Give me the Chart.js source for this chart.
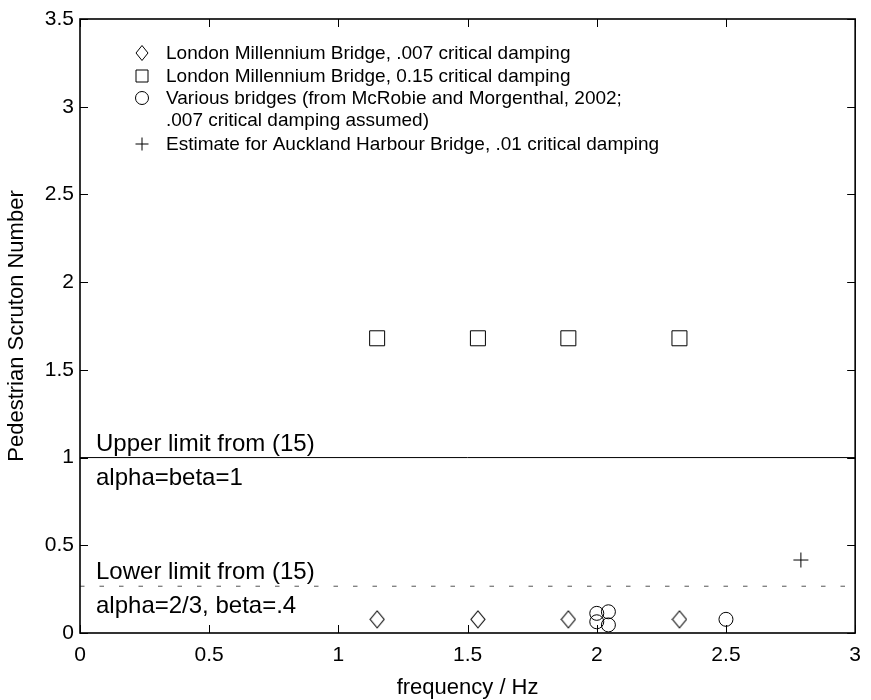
<!DOCTYPE html>
<html>
<head>
<meta charset="utf-8">
<script src="https://cdn.jsdelivr.net/npm/chart.js@4.4.0/dist/chart.umd.min.js"></script>
<style>
html,body{margin:0;padding:0;background:#fff;}
#wrap{width:871px;height:700px;}
</style>
</head>
<body>
<div id="wrap"><canvas id="c" width="871" height="700"></canvas></div>
<script>
// ---- data ----
const lmbFreq = [1.15, 1.54, 1.89, 2.32];
const lmbLowDamping = [0.078, 0.078, 0.078, 0.078];
const lmbHighDamping = [1.68, 1.68, 1.68, 1.68];
const variousFreq = [2.0, 2.0, 2.045, 2.045, 2.5];
const variousValues = [0.112, 0.064, 0.121, 0.046, 0.078];
const aucklandFreq = [2.79];
const aucklandValues = [0.416];
const upperLimit = 1;
const lowerLimit = 2/3 * 0.4;
const xTicks = [0, 0.5, 1, 1.5, 2, 2.5, 3];
const yTicks = [0, 0.5, 1, 1.5, 2, 2.5, 3, 3.5];
const legendLabels = [
  ["London Millennium Bridge, .007 critical damping"],
  ["London Millennium Bridge, 0.15 critical damping"],
  ["Various bridges (from McRobie and Morgenthal, 2002;", ".007 critical damping assumed)"],
  ["Estimate for Auckland Harbour Bridge, .01 critical damping"]
];
const annotations = [
  {text: "Upper limit from (15)", y: upperLimit, above: true},
  {text: "alpha=beta=1", y: upperLimit, above: false},
  {text: "Lower limit from (15)", y: lowerLimit, above: true},
  {text: "alpha=2/3, beta=.4", y: lowerLimit, above: false}
];

const FONT = "'Liberation Sans', Arial, sans-serif";
const pts = (xs, ys) => xs.map((x, i) => ({x: x, y: ys[i]}));

function makeDiamond(hw, hh) {
  const c = document.createElement('canvas');
  c.width = 2 * hw + 2; c.height = 2 * hh + 2;
  const g = c.getContext('2d');
  const cx = c.width / 2, cy = c.height / 2;
  g.strokeStyle = '#000'; g.lineWidth = 1.1;
  g.beginPath();
  g.moveTo(cx, cy - hh); g.lineTo(cx + hw, cy); g.lineTo(cx, cy + hh); g.lineTo(cx - hw, cy); g.closePath();
  g.stroke();
  return c;
}
const diamondStyle = makeDiamond(7, 8.5);

const boxPlugin = {
  id: 'box',
  afterDatasetsDraw(chart) {
    const ctx = chart.ctx, a = chart.chartArea;
    const xs = chart.scales.x, ys = chart.scales.y;
    ctx.save();
    ctx.strokeStyle = '#000';
    ctx.lineWidth = 1.6;
    ctx.strokeRect(a.left, a.top, a.right - a.left, a.bottom - a.top);
    ctx.lineWidth = 1;
    const tl = 8;
    ctx.beginPath();
    xTicks.forEach(v => {
      const px = Math.round(xs.getPixelForValue(v)) + 0.5;
      ctx.moveTo(px, a.bottom); ctx.lineTo(px, a.bottom - tl);
      ctx.moveTo(px, a.top); ctx.lineTo(px, a.top + tl);
    });
    yTicks.forEach(v => {
      const py = Math.round(ys.getPixelForValue(v)) + 0.5;
      ctx.moveTo(a.left, py); ctx.lineTo(a.left + tl, py);
      ctx.moveTo(a.right, py); ctx.lineTo(a.right - tl, py);
    });
    ctx.stroke();

    // annotations
    ctx.fillStyle = '#000';
    ctx.font = '24px ' + FONT;
    ctx.textAlign = 'left';
    ctx.textBaseline = 'alphabetic';
    annotations.forEach(an => {
      const py = ys.getPixelForValue(an.y);
      ctx.fillText(an.text, a.left + 16, an.above ? py - 7 : py + 27);
    });

    // legend
    const mx = 142, tx = 166;
    const rows = [53, 76, 98, 144];
    const styles = ['diamond', 'square', 'circle', 'plus'];
    ctx.font = '19px ' + FONT;
    ctx.textBaseline = 'middle';
    legendLabels.forEach((lines, i) => {
      const y = rows[i];
      drawMarker(ctx, styles[i], mx, y);
      lines.forEach((t, j) => ctx.fillText(t, tx, y + 1 + j * 22));
    });
    ctx.restore();
  }
};

function drawMarker(ctx, s, x, y) {
  ctx.save();
  ctx.strokeStyle = '#000';
  ctx.lineWidth = 1;
  ctx.beginPath();
  if (s === 'diamond') {
    ctx.moveTo(x, y - 7.5); ctx.lineTo(x + 6, y); ctx.lineTo(x, y + 7.5); ctx.lineTo(x - 6, y); ctx.closePath();
  } else if (s === 'square') {
    ctx.rect(x - 6, y - 6, 12, 12);
  } else if (s === 'circle') {
    ctx.arc(x, y, 6.5, 0, Math.PI * 2);
  } else {
    ctx.moveTo(x - 6.5, y); ctx.lineTo(x + 6.5, y); ctx.moveTo(x, y - 6.5); ctx.lineTo(x, y + 6.5);
  }
  ctx.stroke();
  ctx.restore();
}

const scatterBase = {type: 'scatter', showLine: false, borderColor: '#000', backgroundColor: 'rgba(0,0,0,0)', borderWidth: 1};

new Chart(document.getElementById('c'), {
  type: 'scatter',
  data: {
    datasets: [
      Object.assign({}, scatterBase, {label: 'lmb007', data: pts(lmbFreq, lmbLowDamping), pointStyle: diamondStyle, pointRadius: 8}),
      Object.assign({}, scatterBase, {label: 'lmb015', data: pts(lmbFreq, lmbHighDamping), pointStyle: 'rect', pointRadius: 10.6}),
      Object.assign({}, scatterBase, {label: 'various', data: pts(variousFreq, variousValues), pointStyle: 'circle', pointRadius: 7}),
      Object.assign({}, scatterBase, {label: 'auckland', data: pts(aucklandFreq, aucklandValues), pointStyle: 'cross', pointRadius: 7.5}),
      {type: 'line', label: 'upper', data: [{x: 0, y: upperLimit}, {x: 3, y: upperLimit}], borderColor: '#000', borderWidth: 1, pointRadius: 0, fill: false},
      {type: 'line', label: 'lower', data: [{x: 0, y: lowerLimit}, {x: 3, y: lowerLimit}], borderColor: '#555', borderWidth: 1, borderDash: [4.5, 15], pointRadius: 0, fill: false}
    ]
  },
  options: {
    responsive: false,
    animation: false,
    layout: {padding: {top: 19, right: 9, left: 0, bottom: 0}},
    plugins: {legend: {display: false}, tooltip: {enabled: false}},
    elements: {point: {hoverRadius: 0}},
    scales: {
      x: {
        type: 'linear', min: 0, max: 3,
        afterBuildTicks: s => { s.ticks = xTicks.map(v => ({value: v})); },
        afterFit: s => { s.height = 67; },
        grid: {display: false, drawTicks: false},
        border: {display: false},
        ticks: {color: '#000', font: {family: FONT, size: 21}, padding: 10, maxRotation: 0, autoSkip: false, callback: v => String(v)},
        title: {display: true, text: 'frequency / Hz', color: '#000', font: {family: FONT, size: 22, lineHeight: 1.0}, padding: {top: 0, bottom: 1}}
      },
      y: {
        type: 'linear', min: 0, max: 3.5,
        afterBuildTicks: s => { s.ticks = yTicks.map(v => ({value: v})); },
        afterFit: s => { s.width = 80; },
        grid: {display: false, drawTicks: false},
        border: {display: false},
        ticks: {color: '#000', font: {family: FONT, size: 21}, padding: 6, autoSkip: false, callback: v => String(v)},
        title: {display: true, text: 'Pedestrian Scruton Number', color: '#000', font: {family: FONT, size: 22}, padding: {top: 4, bottom: 0}}
      }
    }
  },
  plugins: [boxPlugin]
});
</script>
</body>
</html>
